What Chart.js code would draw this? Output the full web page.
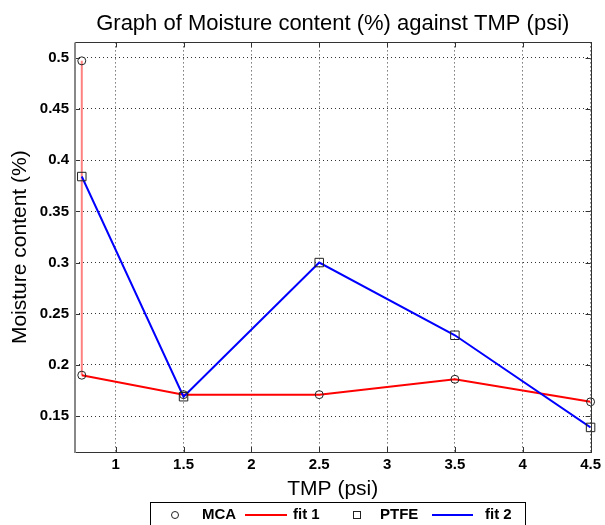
<!DOCTYPE html>
<html>
<head>
<meta charset="utf-8">
<title>Moisture content against TMP</title>
<script src="https://cdn.jsdelivr.net/npm/chart.js@4.4.0/dist/chart.umd.min.js"></script>
<style>
  body { margin: 0; background: #fff; }
  #wrap { width: 605px; height: 525px; }
</style>
</head>
<body>
<div id="wrap"><canvas id="moistureChart" width="605" height="525"></canvas></div>
<script>
// Valores
const mcaTmp = [0.75, 0.75, 1.5, 2.5, 3.5, 4.5];
const mcaMoisture = [0.497, 0.19, 0.171, 0.171, 0.186, 0.164];
const ptfeTmp = [0.75, 1.5, 2.5, 3.5, 4.5];
const ptfeMoisture = [0.384, 0.169, 0.300, 0.229, 0.139];
const xTicks = [1, 1.5, 2, 2.5, 3, 3.5, 4, 4.5];
const yTicks = [0.15, 0.2, 0.25, 0.3, 0.35, 0.4, 0.45, 0.5];
const seriesLabels = ['MCA', 'fit 1', 'PTFE', 'fit 2'];

const FONT = "Arial, 'Liberation Sans', sans-serif";

function toPoints(xs, ys) {
    return xs.map((x, i) => ({ x: x, y: ys[i] }));
}

function fmt(v) {
    return String(+v.toFixed(2));
}

// Moldura, marcas internas e legenda no estilo MATLAB
const matlabFrame = {
    id: 'matlabFrame',
    afterDraw(chart) {
        const { ctx, chartArea: a, scales } = chart;
        ctx.save();
        ctx.strokeStyle = '#333';
        ctx.lineWidth = 1;
        ctx.beginPath();
        xTicks.forEach(v => {
            const px = Math.round(scales.x.getPixelForValue(v)) + 0.5;
            ctx.moveTo(px, a.bottom); ctx.lineTo(px, a.bottom - 5);
            ctx.moveTo(px, a.top); ctx.lineTo(px, a.top + 5);
        });
        yTicks.forEach(v => {
            const py = Math.round(scales.y.getPixelForValue(v)) + 0.5;
            ctx.moveTo(a.left, py); ctx.lineTo(a.left + 5, py);
            ctx.moveTo(a.right, py); ctx.lineTo(a.right - 5, py);
        });
        ctx.stroke();
        ctx.strokeRect(Math.round(a.left) + 0.5, Math.round(a.top) + 0.5,
            Math.round(a.right - a.left), Math.round(a.bottom - a.top));
        ctx.strokeStyle = '#888';
        ctx.lineWidth = 2;
        ctx.beginPath();
        ctx.moveTo(Math.round(a.left), a.top);
        ctx.lineTo(Math.round(a.left), a.bottom + 1);
        ctx.stroke();

        // legenda
        const ly = 515;
        ctx.strokeStyle = '#000';
        ctx.lineWidth = 1;
        ctx.fillStyle = '#fff';
        ctx.fillRect(150, 502, 375, 30);
        ctx.strokeRect(150.5, 502.5, 375, 30);
        ctx.font = 'bold 15px ' + FONT;
        ctx.fillStyle = '#000';
        ctx.textBaseline = 'middle';
        ctx.textAlign = 'left';

        ctx.lineWidth = 1;
        ctx.strokeStyle = '#222';
        ctx.beginPath();
        ctx.arc(175, ly, 3.5, 0, Math.PI * 2);
        ctx.stroke();
        ctx.fillText(seriesLabels[0], 202, ly);

        ctx.strokeStyle = '#ff0000';
        ctx.lineWidth = 2;
        ctx.beginPath();
        ctx.moveTo(245, ly); ctx.lineTo(287, ly);
        ctx.stroke();
        ctx.fillText(seriesLabels[1], 293, ly);

        ctx.strokeStyle = '#222';
        ctx.lineWidth = 1;
        ctx.strokeRect(353.5, ly - 3.5, 7, 7);
        ctx.fillText(seriesLabels[2], 380, ly);

        ctx.strokeStyle = '#0000ff';
        ctx.lineWidth = 2;
        ctx.beginPath();
        ctx.moveTo(432, ly); ctx.lineTo(473, ly);
        ctx.stroke();
        ctx.fillText(seriesLabels[3], 485, ly);
        ctx.restore();
    }
};

new Chart(document.getElementById('moistureChart'), {
    type: 'scatter',
    data: {
        datasets: [
            {
                label: seriesLabels[0],
                data: toPoints(mcaTmp, mcaMoisture),
                showLine: false,
                pointStyle: 'circle',
                pointRadius: 4,
                pointBorderWidth: 1,
                pointBorderColor: '#222',
                pointBackgroundColor: 'rgba(0,0,0,0)',
                clip: false,
                order: 0
            },
            {
                label: seriesLabels[1],
                data: toPoints(mcaTmp, mcaMoisture),
                showLine: true,
                borderColor: '#ff0000',
                borderWidth: 2,
                pointRadius: 0,
                tension: 0,
                segment: {
                    borderColor: c => c.p0.parsed.x === c.p1.parsed.x ? '#ff8080' : '#ff0000'
                },
                order: 2
            },
            {
                label: seriesLabels[2],
                data: toPoints(ptfeTmp, ptfeMoisture),
                showLine: false,
                pointStyle: 'rect',
                pointRadius: 6,
                pointBorderWidth: 1,
                pointBorderColor: '#222',
                pointBackgroundColor: 'rgba(0,0,0,0)',
                clip: false,
                order: 0
            },
            {
                label: seriesLabels[3],
                data: toPoints(ptfeTmp, ptfeMoisture),
                showLine: true,
                borderColor: '#0000ff',
                borderWidth: 2,
                pointRadius: 0,
                tension: 0,
                order: 1
            }
        ]
    },
    options: {
        responsive: false,
        animation: false,
        layout: { padding: { top: 2, right: 12, bottom: 23, left: 0 } },
        plugins: {
            legend: { display: false },
            tooltip: { enabled: false },
            title: {
                display: true,
                fullSize: false,
                text: 'Graph of Moisture content (%) against TMP (psi)',
                color: '#000',
                font: { family: FONT, size: 22, weight: 'normal' },
                padding: { top: 9, bottom: 5 }
            }
        },
        scales: {
            x: {
                type: 'linear',
                min: 0.7,
                max: 4.5,
                afterBuildTicks: s => { s.ticks = xTicks.map(v => ({ value: v })); },
                afterFit: s => { s.height = 50; },
                ticks: {
                    color: '#000',
                    padding: 4,
                    font: { family: FONT, size: 15, weight: 'bold' },
                    callback: v => fmt(v)
                },
                grid: { color: '#333', drawTicks: false },
                border: { display: false, dash: [1, 3] },
                title: {
                    display: true,
                    text: 'TMP (psi)',
                    color: '#000',
                    font: { family: FONT, size: 21 },
                    padding: { top: 0, bottom: 0 }
                }
            },
            y: {
                type: 'linear',
                min: 0.115,
                max: 0.515,
                afterBuildTicks: s => { s.ticks = yTicks.map(v => ({ value: v })); },
                afterFit: s => { s.width = 75; },
                ticks: {
                    color: '#000',
                    padding: 6,
                    font: { family: FONT, size: 15, weight: 'bold' },
                    callback: v => fmt(v)
                },
                grid: { color: '#333', drawTicks: false },
                border: { display: false, dash: [1, 3] },
                title: {
                    display: true,
                    text: 'Moisture content (%)',
                    color: '#000',
                    font: { family: FONT, size: 21 },
                    padding: { top: 8, bottom: 4 }
                }
            }
        }
    },
    plugins: [matlabFrame]
});
</script>
</body>
</html>
